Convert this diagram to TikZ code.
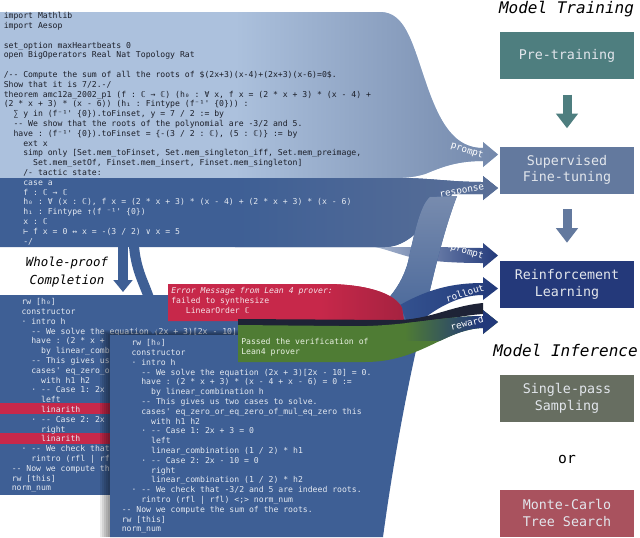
\documentclass[tikz,border=0pt]{standalone}
\usepackage{fontspec}
\setmonofont{DejaVu Sans Mono}
\usepackage{tikz}
\usetikzlibrary{arrows.meta, positioning}

\definecolor{promptblue}{HTML}{ACC1DD}
\definecolor{promptfade}{HTML}{7388AB}
\definecolor{promptlight}{HTML}{A9B8D0}
\definecolor{respblue}{HTML}{3E5F95}
\definecolor{respfade}{HTML}{5A6F97}
\definecolor{slatelight}{HTML}{7A8DAF}
\definecolor{navy}{HTML}{22397A}
\definecolor{rollstart}{HTML}{34528F}
\definecolor{errred}{HTML}{C7284A}
\definecolor{errdark}{HTML}{A52240}
\definecolor{shadowdark}{HTML}{1E2336}
\definecolor{passgreen}{HTML}{4F7C34}
\definecolor{pretrain}{HTML}{4E7E7F}
\definecolor{sftblue}{HTML}{63799E}
\definecolor{rlnavy}{HTML}{24397A}
\definecolor{sampgray}{HTML}{676E61}
\definecolor{mctsred}{HTML}{A9525E}
\definecolor{boxtext}{HTML}{E2E6EC}
\definecolor{codedark}{HTML}{1B1E28}
\definecolor{codelight}{HTML}{E4E9F1}
\definecolor{msgtext}{HTML}{F5E3E8}
\definecolor{passtext}{HTML}{E9F1E2}

% one code column is 0.602em in DejaVu Sans Mono
\newcommand{\ind}[1]{\hspace*{#1\dimexpr 0.602em\relax}}
\newcommand{\codesize}{\ttfamily\fontsize{6.1pt}{7.35pt}\selectfont}

% flow bands, in pixel units (y grows downwards)
\newcommand{\promptband}{(0,12) -- (380,12) .. controls (405,12) and (412,42) .. (425,80)
    .. controls (440,125) and (455,148) .. (483,148) -- (483,142) -- (498,154.5) -- (483,167)
    -- (483,161) .. controls (455,161) and (440,168) .. (425,174)
    .. controls (412,178) and (400,178) .. (390,178) -- (0,178) -- cycle}
\newcommand{\respband}{(0,178) -- (400,178) .. controls (430,178) and (450,182) .. (483,182)
    -- (483,176) -- (498,188) -- (483,200) -- (483,194) -- (455,194)
    .. controls (440,196) and (420,247) .. (385,247) -- (0,247) -- cycle}
\newcommand{\promptrlband}{(375,247) -- (430,247) .. controls (450,247) and (465,248) .. (483,248)
    -- (483,243) -- (498,255.5) -- (483,268) -- (483,263)
    .. controls (460,263) and (430,262) .. (410,257) .. controls (395,253) and (385,249) .. (375,247) -- cycle}
\newcommand{\passband}{(110,335) -- (300,335) .. controls (360,335) and (398,300) .. (408,262)
    .. controls (414,235) and (420,205) .. (430,197) -- (457,196)
    .. controls (440,240) and (428,300) .. (415,355) .. controls (405,400) and (392,470) .. (383,537)
    -- (110,537) -- cycle}
\newcommand{\rolloutband}{(400,305) .. controls (430,288) and (455,283) .. (483,283)
    -- (483,277) -- (498,288.5) -- (483,300) -- (483,295)
    .. controls (455,295) and (430,312) .. (410,330) -- cycle}
\newcommand{\errband}{(168,284) -- (330,284) .. controls (372,285) and (396,295) .. (402,308)
    -- (404,321) -- (168,321) -- cycle}
\newcommand{\shadowstrip}{(238,319) -- (395,320) .. controls (430,320) and (450,306) .. (483,303)
    -- (483,314) .. controls (450,316) and (420,328) .. (380,328) -- (238,328) -- cycle}
\newcommand{\rewardband}{(238,325) -- (340,326) .. controls (400,328) and (440,316) .. (483,316)
    -- (483,310) -- (498,322) -- (483,334) -- (483,328)
    .. controls (445,329) and (420,362) .. (365,362) -- (238,362) -- cycle}

\tikzset{
    code/.style={anchor=north west, inner sep=0pt, align=left, font=\codesize},
    stage/.style={rectangle, minimum width=100.5pt, minimum height=35.25pt, inner sep=0pt,
        align=center, text=boxtext, font=\ttfamily\fontsize{10pt}{12.4pt}\selectfont},
    heading/.style={anchor=base, font=\ttfamily\itshape\fontsize{12pt}{14pt}\selectfont},
    flowlabel/.style={inner sep=0pt, text=white, font=\ttfamily\fontsize{7pt}{8pt}\selectfont},
    stagearrow/.style={line width=6.75pt, -{Triangle[width=16pt,length=11pt]},
        shorten <=11.5pt, shorten >=13.5pt},
    wparrow/.style={draw=respblue, line width=7.5pt, -{Triangle[width=14pt,length=9pt]}},
}

\begin{document}
\begin{tikzpicture}[x=0.75pt, y=-0.75pt]
    \useasboundingbox (0,0) rectangle (640,537);
    \fill[white] (0,0) rectangle (640,537);

    % prompt -> SFT
    \fill[promptblue] \promptband;
    \begin{scope}
        \clip \promptband;
        \shade[left color=promptblue, right color=promptfade] (235,0) rectangle (500,180);
    \end{scope}
    % prompt -> RL
    \shade[left color=promptlight, right color=navy] \promptrlband;
    % response -> SFT
    \fill[respblue] \respband;
    \begin{scope}
        \clip \respband;
        \shade[left color=respblue, right color=respfade] (235,170) rectangle (500,250);
    \end{scope}

    % first whole-proof completion (only its uncovered part is printed)
    \fill[respblue] (0,295) rectangle (300,495);
    \fill[errred] (0,403) rectangle (300,414);
    \fill[errred] (0,433) rectangle (300,444);
    \node[code, text=codelight] (first-proof) at (11.5,297.6) {\strut\ind{2}rw [h₀]\\
        \ind{2}constructor\\
        \ind{2}· intro h\\
        \ind{4}-- We solve the equation (2x + 3)[2x - 10] = 0.\\
        \ind{4}have : (2 * x +\\
        \ind{6}by linear\_comb\\
        \ind{4}-- This gives us\\
        \ind{4}cases' eq\_zero\_o\\
        \ind{6}with h1 h2\\
        \ind{4}· -- Case 1: 2x\\
        \ind{6}left\\
        \ind{6}linarith\\
        \ind{4}· -- Case 2: 2x\\
        \ind{6}right\\
        \ind{6}linarith\\
        \ind{2}· -- We check that\\
        \ind{4}rintro (rfl | rf\\
        -- Now we compute th\\
        rw [this]\\
        norm\_num};

    % second whole-proof completion, with its shadow
    \foreach \s in {2,4,...,10}
        \fill[black, opacity=0.09] (110-\s,335-\s/2) rectangle (300,537);
    \fill[respblue] \passband;
    \begin{scope}
        \clip \passband;
        \shade[top color=slatelight, bottom color=respblue] (370,190) rectangle (465,350);
    \end{scope}
    \node[code, text=codelight] (second-proof) at (121.5,338.6) {\strut\ind{2}rw [h₀]\\
        \ind{2}constructor\\
        \ind{2}· intro h\\
        \ind{4}-- We solve the equation (2x + 3)[2x - 10] = 0.\\
        \ind{4}have : (2 * x + 3) * (x - 4 + x - 6) = 0 :=\\
        \ind{6}by linear\_combination h\\
        \ind{4}-- This gives us two cases to solve.\\
        \ind{4}cases' eq\_zero\_or\_eq\_zero\_of\_mul\_eq\_zero this\\
        \ind{6}with h1 h2\\
        \ind{4}· -- Case 1: 2x + 3 = 0\\
        \ind{6}left\\
        \ind{6}linear\_combination (1 / 2) * h1\\
        \ind{4}· -- Case 2: 2x - 10 = 0\\
        \ind{6}right\\
        \ind{6}linear\_combination (1 / 2) * h2\\
        \ind{2}· -- We check that -3/2 and 5 are indeed roots.\\
        \ind{4}rintro (rfl | rfl) <;> norm\_num\\
        -- Now we compute the sum of the roots.\\
        rw [this]\\
        norm\_num};

    % rollout -> RL
    \shade[left color=rollstart, right color=navy] \rolloutband;

    % verifier feedback
    \fill[errred] \errband;
    \begin{scope}
        \clip \errband;
        \shade[left color=errred, right color=errdark] (320,280) rectangle (405,325);
    \end{scope}
    \node[code, text=msgtext] (error-msg) at (171,286.6)
        {\strut{\itshape Error Message from Lean 4 prover:}\\failed to synthesize\\\ind{3}LinearOrder ℂ};
    \fill[shadowdark] \shadowstrip;
    \fill[passgreen] \rewardband;
    \begin{scope}
        \clip \rewardband;
        \shade[left color=passgreen, right color=navy] (405,300) rectangle (478,340);
        \fill[navy] (478,300) rectangle (500,340);
    \end{scope}
    \node[code, text=passtext] (pass-msg) at (241,337.6) {\strut Passed the verification of\\Lean4 prover};

    % theorem statement and tactic state
    \node[code, text=codedark] (statement) at (3.5,11.6) {\strut import Mathlib\\
        import Aesop\\
        \mbox{}\\
        set\_option maxHeartbeats 0\\
        open BigOperators Real Nat Topology Rat\\
        \mbox{}\\
        /-- Compute the sum of all the roots of \$(2x+3)(x-4)+(2x+3)(x-6)=0\$.\\
        Show that it is 7/2.-/\\
        theorem amc12a\_2002\_p1 (f : ℂ → ℂ) (h₀ : ∀ x, f x = (2 * x + 3) * (x - 4) +\\
        (2 * x + 3) * (x - 6)) (h₁ : Fintype (f⁻¹' \{0\})) :\\
        \ind{2}∑ y in (f⁻¹' \{0\}).toFinset, y = 7 / 2 := by\\
        \ind{2}-- We show that the roots of the polynomial are -3/2 and 5.\\
        \ind{2}have : (f⁻¹' \{0\}).toFinset = \{-(3 / 2 : ℂ), (5 : ℂ)\} := by\\
        \ind{4}ext x\\
        \ind{4}simp only [Set.mem\_toFinset, Set.mem\_singleton\_iff, Set.mem\_preimage,\\
        \ind{6}Set.mem\_setOf, Finset.mem\_insert, Finset.mem\_singleton]\\
        \ind{4}/- tactic state:};
    \node[code, text=codelight] (tactic-state) at (3.5,178.2) {\strut\ind{4}case a\\
        \ind{4}f : ℂ → ℂ\\
        \ind{4}h₀ : ∀ (x : ℂ), f x = (2 * x + 3) * (x - 4) + (2 * x + 3) * (x - 6)\\
        \ind{4}h₁ : Fintype ↑(f ⁻¹' \{0\})\\
        \ind{4}x : ℂ\\
        \ind{4}⊢ f x = 0 ↔ x = -(3 / 2) ∨ x = 5\\
        \ind{4}-/};

    % whole-proof completion
    \coordinate (wp-from-a) at (123,246);
    \coordinate (wp-to-a) at (123,292);
    \coordinate (wp-from-b) at (134,246);
    \coordinate (wp-to-b) at (153,334);
    \draw[wparrow] (wp-from-a) -- (wp-to-a);
    \draw[wparrow] (wp-from-b) .. controls (137,282) and (153,292) .. (wp-to-b);
    \node[align=center, font=\ttfamily\itshape\fontsize{9.3pt}{13.5pt}\selectfont] (wp-label)
        at (67,272) {Whole-proof\\Completion};

    % flow labels
    \node[flowlabel, rotate=-18] (lbl-prompt-sft) at (467,151) {prompt};
    \node[flowlabel, rotate=10] (lbl-response) at (462,192) {response};
    \node[flowlabel, rotate=-17] (lbl-prompt-rl) at (467,252) {prompt};
    \node[flowlabel, rotate=17] (lbl-rollout) at (465,293) {rollout};
    \node[flowlabel, rotate=14] (lbl-reward) at (467,323) {reward};

    % training and inference stages
    \node[heading] (train-title) at (566.5,13.5) {Model Training};
    \node[stage, fill=pretrain] (pretrain) at (567,55.5) {Pre-training};
    \node[stage, fill=sftblue] (sft) at (567,170) {Supervised\\Fine-tuning};
    \node[stage, fill=rlnavy] (rl) at (567,284.5) {Reinforcement\\Learning};
    \draw[stagearrow, pretrain] (pretrain) -- (sft);
    \draw[stagearrow, sftblue] (sft) -- (rl);
    \node[heading] (infer-title) at (565.5,356) {Model Inference};
    \node[stage, fill=sampgray] (single) at (567,398.5) {Single-pass\\Sampling};
    \node[anchor=base, font=\ttfamily\fontsize{11pt}{13pt}\selectfont] (or-label) at (567,463) {or};
    \node[stage, fill=mctsred] (mcts) at (567,513) {Monte-Carlo\\Tree Search};
\end{tikzpicture}
\end{document}
